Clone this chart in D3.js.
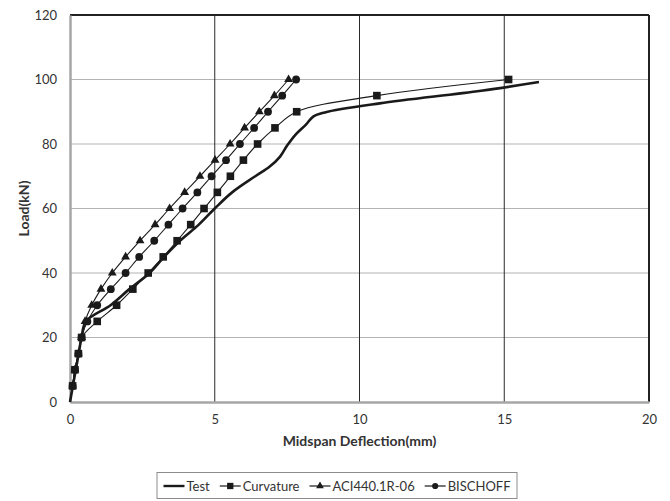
<!DOCTYPE html>
<html>
<head>
<meta charset="utf-8">
<script src="https://cdn.jsdelivr.net/npm/d3@7"></script>
<style>
  body { margin: 0; background: #fff; }
  svg text { font-family: Lato, "Open Sans", sans-serif; fill: #333; }
</style>
</head>
<body>
<div id="chart"></div>
<script>
// data
var seriesNames = ["Test", "Curvature", "ACI440.1R-06", "BISCHOFF"];

var testDefl = [0, 0.1, 0.2, 0.3, 0.4, 0.55, 1.4, 2.05, 2.75, 3.25, 3.8, 4.45, 5.0, 5.6, 6.4, 6.9, 7.25, 7.5, 7.8, 8.15, 8.4, 8.8, 10.7, 14.2, 16.2];
var testLoad = [0, 5, 10, 15, 20, 25, 30, 35, 40, 45, 50, 55, 60, 65, 70, 73, 76, 79.5, 83, 86, 88.5, 89.8, 92.6, 96.5, 99.2];

var modelLoad = [0, 5, 10, 15, 20, 25, 30, 35, 40, 45, 50, 55, 60, 65, 70, 75, 80, 85, 90, 95, 100];
var curvatureDefl = [0, 0.09, 0.17, 0.29, 0.4, 0.94, 1.61, 2.17, 2.7, 3.22, 3.7, 4.17, 4.63, 5.09, 5.54, 5.99, 6.48, 7.08, 7.83, 10.6, 15.15];
var aciDefl = [0, 0.09, 0.17, 0.29, 0.4, 0.52, 0.75, 1.07, 1.46, 1.92, 2.42, 2.94, 3.44, 3.96, 4.49, 5.01, 5.53, 6.03, 6.54, 7.06, 7.55];
var bischoffDefl = [0, 0.09, 0.17, 0.29, 0.4, 0.6, 0.94, 1.41, 1.92, 2.39, 2.91, 3.4, 3.89, 4.4, 4.89, 5.39, 5.87, 6.36, 6.84, 7.33, 7.81];

var xTicks = [0, 5, 10, 15, 20];
var yTicks = [0, 20, 40, 60, 80, 100, 120];

var W = 670, H = 501;
var margin = { top: 15, right: 21, bottom: 99, left: 70 };

var svg = d3.select("#chart").append("svg")
    .attr("width", W)
    .attr("height", H);

var x = d3.scaleLinear().domain([0, 20]).range([margin.left, W - margin.right]);
var y = d3.scaleLinear().domain([0, 120]).range([H - margin.bottom, margin.top]);

// horizontal grid (light grey)
svg.append("g")
    .selectAll("line")
    .data(yTicks.filter(function (d) { return d > 0 && d < 120; }))
    .enter().append("line")
    .attr("x1", x(0)).attr("x2", x(20))
    .attr("y1", function (d) { return y(d); })
    .attr("y2", function (d) { return y(d); })
    .attr("stroke", "#b3b3b3")
    .attr("stroke-width", 1.2);

// vertical grid (dark)
svg.append("g")
    .selectAll("line")
    .data(xTicks.filter(function (d) { return d > 0 && d < 20; }))
    .enter().append("line")
    .attr("x1", function (d) { return x(d); })
    .attr("x2", function (d) { return x(d); })
    .attr("y1", y(0)).attr("y2", y(120))
    .attr("stroke", "#2a2a2a")
    .attr("stroke-width", 1);

// top and right border
svg.append("line").attr("x1", x(0)).attr("x2", x(20)).attr("y1", y(120)).attr("y2", y(120))
    .attr("stroke", "#222").attr("stroke-width", 2);
svg.append("line").attr("x1", x(20)).attr("x2", x(20)).attr("y1", y(120)).attr("y2", y(0))
    .attr("stroke", "#222").attr("stroke-width", 2);

// axes
var xAxis = svg.append("g")
    .attr("transform", "translate(0," + y(0) + ")")
    .call(d3.axisBottom(x).tickValues(xTicks).tickSize(0).tickPadding(13));
var yAxis = svg.append("g")
    .attr("transform", "translate(" + x(0) + ",0)")
    .call(d3.axisLeft(y).tickValues(yTicks).tickSize(0).tickPadding(13));
[xAxis, yAxis].forEach(function (a) {
    a.select(".domain").attr("stroke", "#a6a6a6").attr("stroke-width", 2.5);
    a.selectAll("text").style("font-size", "13px").attr("fill", "#333");
});

// axis titles
svg.append("text")
    .attr("x", (x(0) + x(20)) / 2)
    .attr("y", 446)
    .attr("text-anchor", "middle")
    .style("font-size", "14px")
    .style("font-weight", "bold")
    .text("Midspan Deflection(mm)");
svg.append("text")
    .attr("transform", "translate(29," + ((y(0) + y(120)) / 2) + ") rotate(-90)")
    .attr("text-anchor", "middle")
    .style("font-size", "14px")
    .style("font-weight", "bold")
    .text("Load(kN)");

var line = d3.line()
    .x(function (d) { return x(d[0]); })
    .y(function (d) { return y(d[1]); })
    .curve(d3.curveCatmullRom.alpha(0.5));

function pairs(xs, ys) { return xs.map(function (v, i) { return [v, ys[i]]; }); }

var curvature = pairs(curvatureDefl, modelLoad);
var aci = pairs(aciDefl, modelLoad);
var bischoff = pairs(bischoffDefl, modelLoad);
var test = pairs(testDefl, testLoad);

var triangle = d3.symbol().type(d3.symbolTriangle).size(34);
var square = d3.symbol().type(d3.symbolSquare).size(58);
var circle = d3.symbol().type(d3.symbolCircle).size(48);

function drawModel(data, sym) {
    svg.append("path").datum(data)
        .attr("d", line)
        .attr("fill", "none")
        .attr("stroke", "#1a1a1a")
        .attr("stroke-width", 1.1);
    svg.append("g").selectAll("path")
        .data(data.filter(function (d) { return d[1] > 0; }))
        .enter().append("path")
        .attr("d", sym)
        .attr("transform", function (d) { return "translate(" + x(d[0]) + "," + y(d[1]) + ")"; })
        .attr("fill", "#1a1a1a");
}

drawModel(aci, triangle);
drawModel(bischoff, circle);
drawModel(curvature, square);

svg.append("path").datum(test)
    .attr("d", line)
    .attr("fill", "none")
    .attr("stroke", "#1a1a1a")
    .attr("stroke-width", 2.6);

// legend
var boxX = 157, boxW = 360;
var lg = svg.append("g");
lg.append("rect")
    .attr("x", boxX).attr("y", 472.5)
    .attr("width", boxW).attr("height", 26)
    .attr("fill", "#fff")
    .attr("stroke", "#8c8c8c")
    .attr("stroke-width", 1);

var legendSym = [null, square, triangle, circle];
var legendSize = [0, 40, 26, 30];
var ly = 486;
var items = lg.append("g");
var cx = 0;
seriesNames.forEach(function (name, i) {
    var it = items.append("g").attr("transform", "translate(" + cx + ",0)");
    it.append("line")
        .attr("x1", 0).attr("x2", 21)
        .attr("y1", ly).attr("y2", ly)
        .attr("stroke", "#1a1a1a")
        .attr("stroke-width", i === 0 ? 2.4 : 1.2);
    if (legendSym[i]) {
        it.append("path")
            .attr("d", legendSym[i].size(legendSize[i])())
            .attr("transform", "translate(10.5," + ly + ")")
            .attr("fill", "#1a1a1a");
    }
    var t = it.append("text")
        .attr("x", 23)
        .attr("y", ly + 4.5)
        .style("font-size", "13px")
        .text(name);
    cx += 23 + t.node().getComputedTextLength() + 10;
});
var total = cx - 10;
items.attr("transform", "translate(" + (boxX + (boxW - total) / 2) + ",0)");
</script>
</body>
</html>
